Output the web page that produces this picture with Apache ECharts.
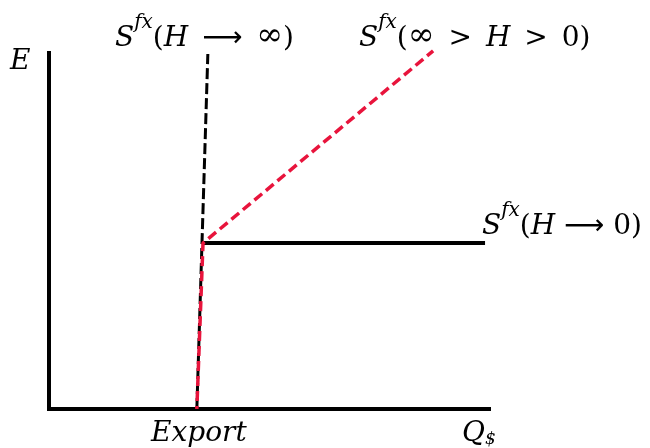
<!DOCTYPE html>
<html>
<head>
<meta charset="utf-8">
<script src="https://cdn.jsdelivr.net/npm/echarts@6/dist/echarts.min.js"></script>
<style>
  html, body { margin: 0; padding: 0; background: #fff; }
  #chart { width: 650px; height: 448px; }
</style>
</head>
<body>
<div id="chart"></div>
<script>
// 数据：x = Q$（0-100），y = E（0-100）
const fixedSupply = [[33.6, 0], [36.1, 99.7]] // S(H -> ∞)，黑色虚线
const midSupply = [[33.6, 0], [35, 46.6], [87.3, 100.6]] // S(∞ > H > 0)，红色虚线
const flatSupply = [[35, 46.6], [99.1, 46.6]] // S(H -> 0)，黑色实线

const serif = 'DejaVu Serif'
const base = { fontFamily: serif, fontSize: 28, lineHeight: 40, verticalAlign: 'bottom', color: '#000' }
const rich = {
  it: { ...base, fontStyle: 'italic' },
  up: { ...base },
  inf: { ...base, fontSize: 32 },
  arr: { ...base, fontFamily: 'DejaVu Sans' },
  sup: { fontFamily: serif, fontStyle: 'italic', fontSize: 20, lineHeight: 20, verticalAlign: 'top', color: '#000' },
  sub: { fontFamily: serif, fontStyle: 'italic', fontSize: 17, lineHeight: 18, verticalAlign: 'bottom', color: '#000' }
}

const label = (x, y, text) => ({
  type: 'text',
  left: x,
  top: y,
  style: { text, rich }
})

const chart = echarts.init(document.getElementById('chart'))

chart.setOption({
  animation: false,
  grid: { left: 49, right: 161, top: 53, bottom: 39 },
  xAxis: {
    type: 'value',
    min: 0,
    max: 100,
    axisLine: { lineStyle: { color: '#000', width: 4, cap: 'square' } },
    axisTick: { show: false },
    axisLabel: { show: false },
    splitLine: { show: false }
  },
  yAxis: {
    type: 'value',
    min: 0,
    max: 100,
    axisLine: { lineStyle: { color: '#000', width: 4, cap: 'square' } },
    axisTick: { show: false },
    axisLabel: { show: false },
    splitLine: { show: false }
  },
  series: [
    {
      type: 'line',
      data: fixedSupply,
      symbol: 'none',
      clip: false,
      lineStyle: { color: '#000', width: 3, type: [11, 4] }
    },
    {
      type: 'line',
      data: flatSupply,
      symbol: 'none',
      clip: false,
      lineStyle: { color: '#000', width: 4 }
    },
    {
      type: 'line',
      data: midSupply,
      symbol: 'none',
      clip: false,
      lineStyle: { color: '#e8143c', width: 3.5, type: [10, 5], dashOffset: 7 }
    }
  ],
  graphic: [
    label(115, 13, '{it|S}{sup|fx}{up|(}{it|H}{arr|\u2002⟶\u2002}{inf|∞}{up|)}'),
    label(359, 13, '{it|S}{sup|fx}{up|(}{inf|∞}{up|\u2002>\u2002}{it|H}{up|\u2002>\u20020)}'),
    label(482, 201, '{it|S}{sup|fx}{up|(}{it|H}{arr| ⟶ }{up|0)}'),
    label(10, 48, '{it|E}'),
    label(151, 420, '{it|Export}'),
    label(462, 420, '{it|Q}{sub|$}')
  ]
})
</script>
</body>
</html>
